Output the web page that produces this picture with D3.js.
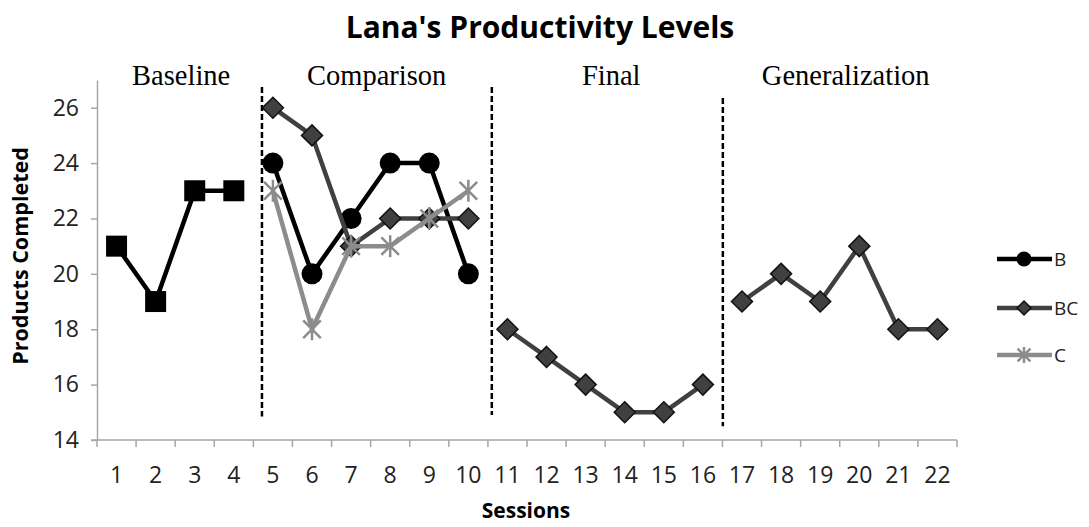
<!DOCTYPE html>
<html>
<head>
<meta charset="utf-8">
<script src="https://cdn.jsdelivr.net/npm/d3@7"></script>
<style>
  body { margin: 0; background: #fff; }
  svg { display: block; }
</style>
</head>
<body>
<svg id="chart" width="1089" height="527"></svg>
<script>
// data
const sessions = d3.range(1, 23);
const yTicks = [14, 16, 18, 20, 22, 24, 26];

const baselineSessions = [1, 2, 3, 4];
const baselineValues = [21, 19, 23, 23];

const compSessions = [5, 6, 7, 8, 9, 10];
const bValues = [24, 20, 22, 24, 24, 20];
const bcCompValues = [26, 25, 21, 22, 22, 22];
const cValues = [23, 18, 21, 21, 22, 23];

const finalSessions = [11, 12, 13, 14, 15, 16];
const bcFinalValues = [18, 17, 16, 15, 15, 16];

const genSessions = [17, 18, 19, 20, 21, 22];
const bcGenValues = [19, 20, 19, 21, 18, 18];

const phaseNames = ["Baseline", "Comparison", "Final", "Generalization"];
const phaseFirst = [1, 5, 11, 17];
const phaseLast = [4, 10, 16, 22];
// phase change lines: position in sessions counted from left edge, y extent
const phaseBreaks = [4.22, 10.1, 16.01];
const phaseBreakTop = [26.75, 26.75, 26.35];
const phaseBreakBottom = [14.85, 14.9, 14.5];

const legendNames = ["B", "BC", "C"];

// layout
const svg = d3.select("#chart");
const plotLeft = 97, plotRight = 957, plotTop = 80, plotBottom = 440;

const x = d3.scaleBand().domain(sessions).range([plotLeft, plotRight]);
const y = d3.scaleLinear().domain([14, 27]).range([plotBottom, plotTop]);
const xs = d3.scaleLinear().domain([0, 22]).range([plotLeft, plotRight]); // boundaries
const cx = s => x(s) + x.bandwidth() / 2;

const AXIS = "#a6a6a6";
const BLACK = "#000";
const DARK = "#404040";
const LIGHT = "#8c8c8c";

// title
svg.append("text")
  .attr("x", 540).attr("y", 38)
  .attr("text-anchor", "middle")
  .style("font-family", "'Open Sans', sans-serif")
  .style("font-weight", "bold")
  .style("font-size", "30px")
  .text("Lana's Productivity Levels");

// y axis
const yAxis = svg.append("g")
  .attr("transform", `translate(${plotLeft},0)`)
  .call(d3.axisLeft(y).tickValues(yTicks).tickSize(6).tickSizeOuter(0).tickPadding(12));
yAxis.select(".domain").attr("stroke", AXIS).attr("stroke-width", 1.5);
yAxis.selectAll(".tick line").attr("stroke", AXIS).attr("stroke-width", 1.5);
yAxis.selectAll(".tick text")
  .style("font-family", "'Open Sans', sans-serif")
  .style("font-size", "23px")
  .attr("fill", "#222");

// x axis
svg.append("line")
  .attr("x1", plotLeft - 6).attr("x2", plotRight)
  .attr("y1", plotBottom).attr("y2", plotBottom)
  .attr("stroke", AXIS).attr("stroke-width", 1.5);
svg.append("g").selectAll("line")
  .data(d3.range(0, 23))
  .join("line")
  .attr("x1", d => xs(d)).attr("x2", d => xs(d))
  .attr("y1", plotBottom).attr("y2", plotBottom + 7)
  .attr("stroke", AXIS).attr("stroke-width", 1.5);
svg.append("g").selectAll("text")
  .data(sessions)
  .join("text")
  .attr("x", d => cx(d)).attr("y", 483)
  .attr("text-anchor", "middle")
  .style("font-family", "'Open Sans', sans-serif")
  .style("font-size", "23px")
  .attr("fill", "#222")
  .text(d => d);

// axis titles
svg.append("text")
  .attr("x", 526).attr("y", 518)
  .attr("text-anchor", "middle")
  .style("font-family", "'Open Sans', sans-serif")
  .style("font-weight", "bold")
  .style("font-size", "21px")
  .text("Sessions");
svg.append("text")
  .attr("transform", "translate(28,256) rotate(-90)")
  .attr("text-anchor", "middle")
  .style("font-family", "'Open Sans', sans-serif")
  .style("font-weight", "bold")
  .style("font-size", "21.5px")
  .text("Products Completed");

// phase labels
svg.append("g").selectAll("text")
  .data(phaseNames)
  .join("text")
  .attr("x", (d, i) => (cx(phaseFirst[i]) + cx(phaseLast[i])) / 2 + 6)
  .attr("y", 85)
  .attr("text-anchor", "middle")
  .style("font-family", "'Liberation Serif', 'Times New Roman', serif")
  .style("font-size", "28.5px")
  .text(d => d);

// phase change lines
svg.append("g").selectAll("line")
  .data(phaseBreaks)
  .join("line")
  .attr("x1", d => xs(d)).attr("x2", d => xs(d))
  .attr("y1", (d, i) => y(phaseBreakTop[i]))
  .attr("y2", (d, i) => y(phaseBreakBottom[i]))
  .attr("stroke", BLACK)
  .attr("stroke-width", 2.5)
  .attr("stroke-dasharray", "6,3");

const line = d3.line().x(d => cx(d[0])).y(d => y(d[1]));
const pairs = (ss, vs) => ss.map((s, i) => [s, vs[i]]);

function drawLine(pts, color) {
  svg.append("path")
    .datum(pts)
    .attr("d", line)
    .attr("fill", "none")
    .attr("stroke", color)
    .attr("stroke-width", 4.5)
    .attr("stroke-linejoin", "round");
}

function square(g, px, py, s) {
  g.append("rect").attr("x", px - s / 2).attr("y", py - s / 2)
    .attr("width", s).attr("height", s).attr("fill", BLACK);
}
function circle(g, px, py, r) {
  g.append("circle").attr("cx", px).attr("cy", py).attr("r", r).attr("fill", BLACK);
}
function diamond(g, px, py, r) {
  g.append("path")
    .attr("d", `M${px},${py - r}L${px + r},${py}L${px},${py + r}L${px - r},${py}Z`)
    .attr("fill", DARK).attr("stroke", "#111").attr("stroke-width", 1.5);
}
function star(g, px, py, r) {
  const d = r * 0.8;
  g.append("path")
    .attr("d", `M${px - d},${py - d}L${px + d},${py + d}M${px - d},${py + d}L${px + d},${py - d}M${px},${py - r}L${px},${py + r}`)
    .attr("stroke", LIGHT).attr("stroke-width", 2.5).attr("fill", "none");
}

// baseline
const basePts = pairs(baselineSessions, baselineValues);
drawLine(basePts, BLACK);
basePts.forEach(p => square(svg, cx(p[0]), y(p[1]), 21));

// B
const bPts = pairs(compSessions, bValues);
drawLine(bPts, BLACK);
bPts.forEach(p => circle(svg, cx(p[0]), y(p[1]), 10.5));

// BC in three phases
[pairs(compSessions, bcCompValues), pairs(finalSessions, bcFinalValues), pairs(genSessions, bcGenValues)]
  .forEach(pts => {
    drawLine(pts, DARK);
    pts.forEach(p => diamond(svg, cx(p[0]), y(p[1]), 10.5));
  });

// C
const cPts = pairs(compSessions, cValues);
drawLine(cPts, LIGHT);
cPts.forEach(p => star(svg, cx(p[0]), y(p[1]), 11));

// legend
const legendY = [259, 308, 355];
const legendColors = [BLACK, DARK, LIGHT];
const lg = svg.append("g");
legendNames.forEach((name, i) => {
  const ly = legendY[i];
  lg.append("line")
    .attr("x1", 997).attr("x2", 1052).attr("y1", ly).attr("y2", ly)
    .attr("stroke", legendColors[i]).attr("stroke-width", 4.5);
  if (i === 0) circle(lg, 1024, ly, 7.5);
  if (i === 1) diamond(lg, 1024, ly, 7);
  if (i === 2) star(lg, 1024, ly, 8);
  lg.append("text")
    .attr("x", 1054).attr("y", ly + 7)
    .style("font-family", "'Open Sans', sans-serif")
    .style("font-size", "19px")
    .attr("fill", "#222")
    .text(name);
});
</script>
</body>
</html>
